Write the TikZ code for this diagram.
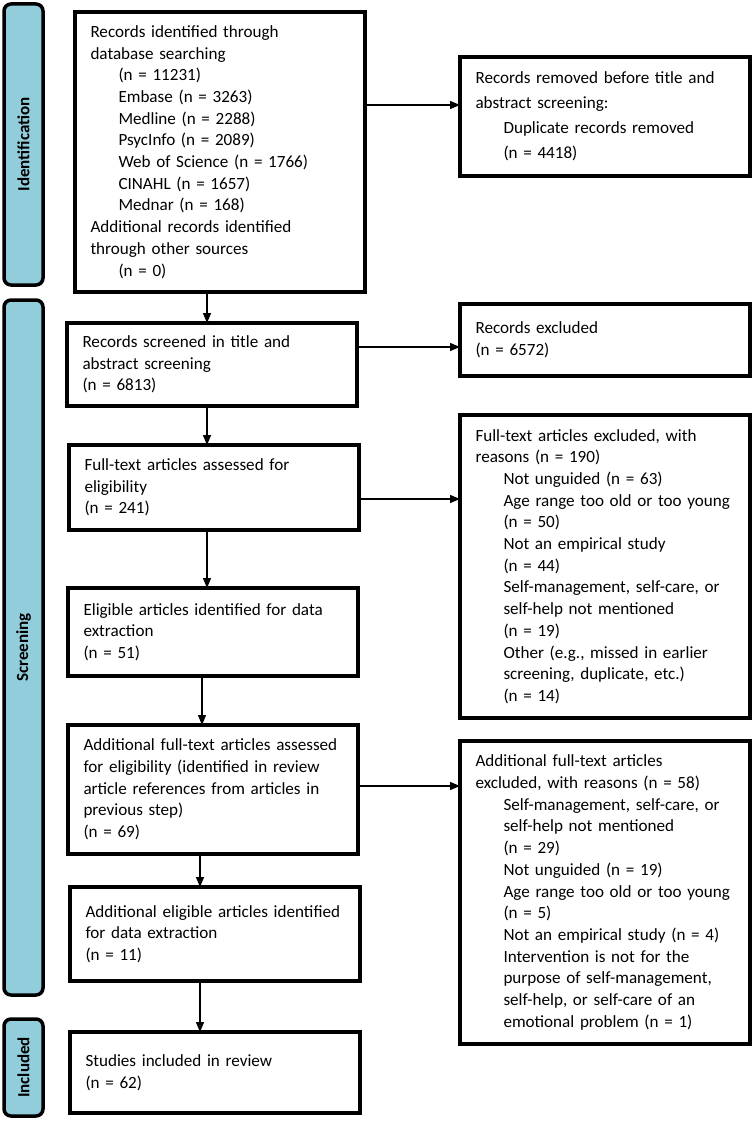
\documentclass[tikz,border=0pt]{standalone}
\usepackage{fontspec}
\setmainfont{Carlito}
\usetikzlibrary{arrows.meta}
\definecolor{phasecol}{HTML}{92CDDC}
\newcommand{\ind}{\hspace*{28pt}}
\tikzset{
  flowbox/.style={draw,line width=3.5pt,outer sep=0pt,inner xsep=15.5pt,inner ysep=0pt,
    align=left,anchor=north west,text width=259pt,minimum width=290pt,
    font=\fontsize{17.1}{21.7}\selectfont},
  phase/.style={draw,line width=3.5pt,rounded corners=7pt,fill=phasecol,outer sep=0pt,
    rotate=90,minimum height=39pt,font=\fontsize{17}{20}\selectfont\bfseries},
  arr/.style={-{Triangle[length=10pt,width=8pt]},line width=1.3pt},
}
\begin{document}
\begin{tikzpicture}[x=1pt,y=-1pt]
\useasboundingbox (0,0) rectangle (753,1121);

% phases
\node[phase,minimum width=281pt] (idphase) at (23.5,144.5) {Identification};
\node[phase,minimum width=695pt] (scphase) at (23.5,647.5) {Screening};
\node[phase,minimum width=97pt] (inphase) at (23.5,1067.5) {Included};

% main column
\node[flowbox,minimum height=280pt] (ident) at (75,12) {Records identified through\\
  database searching\\ \ind(n = 11231)\\ \ind Embase (n = 3263)\\ \ind Medline (n = 2288)\\
  \ind PsycInfo (n = 2089)\\ \ind Web of Science (n = 1766)\\ \ind CINAHL (n = 1657)\\
  \ind Mednar (n = 168)\\ Additional records identified\\ through other sources\\ \ind(n = 0)};
\node[flowbox,minimum height=83pt] (screened) at (67,323) {Records screened in title and\\
  abstract screening\\ (n = 6813)};
\node[flowbox,minimum height=85pt] (fulltext) at (69,445) {Full-text articles assessed for\\
  eligibility\\ (n = 241)};
\node[flowbox,minimum height=88pt] (eligible) at (68,588) {Eligible articles identified for data\\
  extraction\\ (n = 51)};
\node[flowbox,minimum height=129pt] (addfull) at (68,725) {Additional full-text articles assessed\\
  for eligibility (identified in review\\ article references from articles in\\
  previous step)\\ (n = 69)};
\node[flowbox,minimum height=94pt] (addelig) at (70,887) {Additional eligible articles identified\\
  for data extraction\\ (n = 11)};
\node[flowbox,minimum height=81pt] (included) at (70,1032) {Studies included in review\\ (n = 62)};

% side column
\node[flowbox,minimum height=119pt,font=\fontsize{17.1}{25}\selectfont] (removed) at (460,57)
  {Records removed before title and\\ abstract screening:\\ \ind Duplicate records removed\\ \ind(n = 4418)};
\node[flowbox,minimum height=72pt] (excluded) at (460,304) {Records excluded\\ (n = 6572)};
\node[flowbox,minimum height=303pt] (ftexcl) at (460,415) {Full-text articles excluded, with\\
  reasons (n = 190)\\ \ind Not unguided (n = 63)\\ \ind Age range too old or too young\\
  \ind(n = 50)\\ \ind Not an empirical study\\ \ind(n = 44)\\ \ind Self-management, self-care, or\\
  \ind self-help not mentioned\\ \ind(n = 19)\\ \ind Other (e.g., missed in earlier\\
  \ind screening, duplicate, etc.)\\ \ind(n = 14)};
\node[flowbox,minimum height=303pt] (addexcl) at (460,741) {Additional full-text articles\\
  excluded, with reasons (n = 58)\\ \ind Self-management, self-care, or\\ \ind self-help not mentioned\\
  \ind(n = 29)\\ \ind Not unguided (n = 19)\\ \ind Age range too old or too young\\ \ind(n = 5)\\
  \ind Not an empirical study (n = 4)\\ \ind Intervention is not for the\\
  \ind purpose of self-management,\\ \ind self-help, or self-care of an\\ \ind emotional problem (n = 1)};

% arrows
\foreach \a/\b/\xpos in {ident/screened/207,screened/fulltext/207,fulltext/eligible/207,
    eligible/addfull/202,addfull/addelig/200,addelig/included/200}
  \draw[arr] (\xpos,0 |- \a.south) -- (\xpos,0 |- \b.north);
\foreach \a/\b/\ypos in {ident/removed/105,screened/excluded/347,fulltext/ftexcl/499,addfull/addexcl/786}
  \draw[arr] (\a.east |- 0,\ypos) -- (\b.west |- 0,\ypos);
\end{tikzpicture}
\end{document}
